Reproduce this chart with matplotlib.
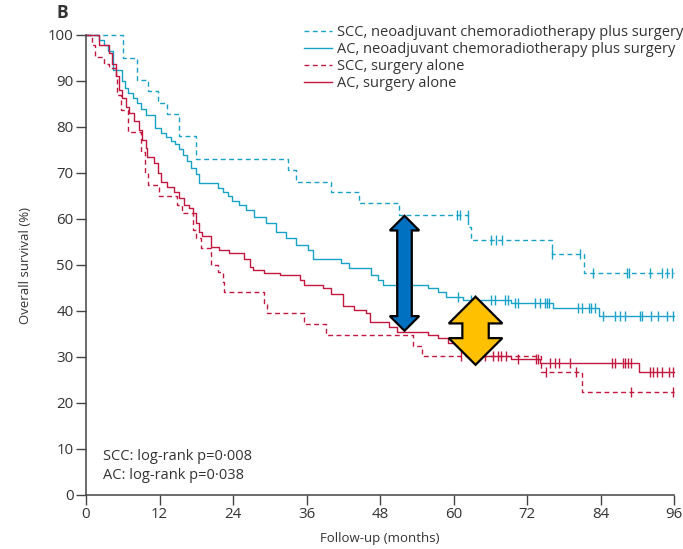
import numpy as np
import matplotlib
matplotlib.use("Agg")
import matplotlib.pyplot as plt
from matplotlib.patches import Polygon
from matplotlib.lines import Line2D

# ---- Kaplan-Meier step data (months, overall survival %) ----
scc_neo_t = [0, 6.1, 8.4, 10.2, 11.7, 13.3, 15.2, 17.9, 32.9, 34.3, 40.0, 44.5, 51.1, 62.4, 62.9, 76.0, 81.3]
scc_neo_s = [100, 95.0, 90.3, 87.8, 85.2, 82.8, 78.0, 73.1, 70.7, 68.1, 65.8, 63.4, 60.9, 58.3, 55.4, 52.3, 48.2]
scc_neo_cens = [60.6, 61.1, 62.3, 66.2, 67.0, 67.9, 76.0, 80.6, 82.8, 88.3, 88.6, 92.0, 94.0, 94.8, 95.6]

ac_neo_t = [0, 2.1, 3.0, 3.6, 4.4, 5.9, 6.3, 6.8, 7.6, 8.4, 9.0, 9.8, 11.3, 12.2, 13.0, 13.8, 14.5,
            15.2, 15.8, 16.5, 17.1, 17.9, 18.5, 21.5, 22.3, 23.2, 23.9, 25.0, 26.1, 27.5, 29.4, 31.0,
            32.7, 34.3, 36.2, 37.0, 41.6, 43.0, 46.6, 47.6, 48.5, 55.8, 57.4, 58.8, 61.6, 69.4, 76.3, 83.8]
ac_neo_s = [100, 99.0, 97.8, 96.5, 92.4, 90.0, 88.5, 87.3, 86.3, 85.2, 84.0, 82.6, 79.7, 78.8, 77.9, 77.0, 76.2,
            75.2, 74.0, 72.5, 71.0, 69.8, 67.8, 66.8, 65.8, 65.0, 64.0, 63.0, 62.0, 60.5, 59.1, 57.2,
            55.8, 54.3, 53.3, 51.4, 50.4, 49.3, 47.8, 46.7, 45.7, 44.9, 44.2, 43.1, 42.5, 41.7, 40.6, 38.9]
ac_neo_cens = [60.8, 62.9, 63.5, 66.2, 66.7, 68.4, 68.9, 70.0, 70.5, 73.3, 74.1, 74.9, 75.3, 75.6,
               80.3, 80.9, 82.1, 82.5, 83.1, 84.4, 86.3, 87.2, 88.0, 90.4, 90.7, 92.3, 93.4, 94.8, 95.9]

scc_surg_t = [0, 1.0, 1.5, 2.9, 3.8, 4.9, 5.1, 5.7, 6.8, 8.9, 9.6, 10.1, 11.9, 14.9, 15.7, 17.4, 17.9,
              18.7, 20.4, 21.5, 22.3, 22.6, 29.1, 29.6, 35.6, 39.2, 53.4, 54.8, 74.3, 80.9]
scc_surg_s = [100, 97.8, 95.3, 93.8, 92.8, 90.9, 87.0, 83.7, 79.0, 74.6, 70.0, 67.4, 65.0, 63.0, 61.2, 57.6, 55.8,
              53.6, 50.0, 48.5, 46.4, 44.2, 41.7, 39.5, 37.2, 34.8, 32.5, 30.2, 26.8, 22.5]
scc_surg_cens = [61.3, 65.1, 66.4, 67.2, 67.8, 68.6, 75.1, 80.0, 88.9, 95.8]

ac_surg_t = [0, 2.1, 3.8, 4.3, 4.9, 5.4, 5.9, 6.5, 7.0, 7.8, 8.7, 9.2, 9.8, 10.0, 11.1, 11.7, 12.2, 13.3,
             14.4, 15.2, 16.0, 16.8, 17.4, 17.9, 18.5, 19.0, 20.4, 21.7, 23.4, 25.8, 26.7, 27.2, 29.1,
             31.6, 35.0, 35.6, 38.7, 40.0, 41.9, 43.8, 45.7, 46.3, 49.5, 50.7, 55.8, 57.4, 59.1, 61.0,
             62.5, 63.5, 69.4, 74.1, 90.3]
ac_surg_s = [100, 97.8, 96.0, 93.8, 91.0, 88.0, 86.2, 84.4, 83.0, 81.2, 79.3, 77.2, 75.4, 73.5, 72.1, 69.9, 68.1, 67.0,
             65.9, 64.5, 63.0, 62.3, 61.2, 59.1, 57.2, 56.2, 54.0, 53.3, 52.5, 51.4, 49.6, 48.9, 48.2,
             47.8, 46.8, 45.7, 44.9, 43.8, 41.1, 40.3, 39.6, 37.7, 36.6, 35.5, 34.8, 34.1, 33.0, 31.8,
             30.9, 30.2, 29.5, 28.6, 26.8]
ac_surg_cens = [70.6, 73.4, 73.8, 75.7, 76.5, 77.3, 79.0, 85.8, 86.3, 87.7, 88.0, 88.5, 89.0,
                92.1, 92.6, 93.2, 94.0, 95.2, 95.9]

series_labels = ["SCC, neoadjuvant chemoradiotherapy plus surgery",
                 "AC, neoadjuvant chemoradiotherapy plus surgery",
                 "SCC, surgery alone",
                 "AC, surgery alone"]
x_ticks = [0, 12, 24, 36, 48, 60, 72, 84, 96]
y_ticks = [0, 10, 20, 30, 40, 50, 60, 70, 80, 90, 100]
pvalue_lines = ["SCC: log-rank p=0\u00b7008", "AC: log-rank p=0\u00b7038"]

CYAN = "#17A2C8"
RED = "#C2173F"
TXT = "#333333"

plt.rcParams["font.family"] = ["Open Sans", "DejaVu Sans"]

W, H, DPI = 683, 549, 100
fig = plt.figure(figsize=(W / DPI, H / DPI), dpi=DPI)
ax_l, ax_r, ax_t, ax_b = 86, 674, 35, 495
ax = fig.add_axes([ax_l / W, 1 - ax_b / H, (ax_r - ax_l) / W, (ax_b - ax_t) / H])

XMAX = 96


def km_value(t_steps, s_steps, t):
    idx = np.searchsorted(np.asarray(t_steps), t, side="right") - 1
    return np.asarray(s_steps)[idx]


def draw_curve(t, s, cens, color, ls, label):
    tt = list(t) + [XMAX]
    ss = list(s) + [s[-1]]
    if ls == "--":
        ax.step(tt, ss, where="post", color=color, lw=1.0, dashes=(3.5, 2.5),
                clip_on=False, label=label)
    else:
        ax.step(tt, ss, where="post", color=color, lw=1.0, clip_on=False, label=label)
    cv = [km_value(t, s, c) for c in cens]
    ax.plot(cens, cv, ls="none", marker="|", ms=6.5, mew=1.0, color=color, clip_on=False)


draw_curve(scc_neo_t, scc_neo_s, scc_neo_cens, CYAN, "--", series_labels[0])
draw_curve(ac_neo_t, ac_neo_s, ac_neo_cens, CYAN, "-", series_labels[1])
draw_curve(scc_surg_t, scc_surg_s, scc_surg_cens, RED, "--", series_labels[2])
draw_curve(ac_surg_t, ac_surg_s, ac_surg_cens, RED, "-", series_labels[3])

ax.set_xlim(0, XMAX)
ax.set_ylim(0, 100)
ax.set_xticks(x_ticks)
ax.set_yticks(y_ticks)
for sp in ("top", "right"):
    ax.spines[sp].set_visible(False)
for sp in ("left", "bottom"):
    ax.spines[sp].set_color("#444444")
    ax.spines[sp].set_linewidth(1.1)
ax.tick_params(direction="out", length=7, width=1.0, color="#444444", labelcolor=TXT,
               labelsize=10.8, pad=2)
ax.set_xlabel("Follow-up (months)", fontsize=9.5, color=TXT, labelpad=7)
ax.set_ylabel("Overall survival (%)", fontsize=9.5, color=TXT, labelpad=11)

# legend
handles = [Line2D([], [], color=CYAN, lw=1.0, dashes=(3.5, 2.5)),
           Line2D([], [], color=CYAN, lw=1.0),
           Line2D([], [], color=RED, lw=1.0, dashes=(3.5, 2.5)),
           Line2D([], [], color=RED, lw=1.0)]
fig.legend(handles, series_labels, loc="upper left", bbox_to_anchor=(304 / W, 1 - 25 / H),
           frameon=False, fontsize=10.5, handlelength=1.95, handletextpad=0.3,
           labelspacing=0.14, borderpad=0, borderaxespad=0, labelcolor=TXT)

# p-values
ax.text(0.029, 0.083, pvalue_lines[0], transform=ax.transAxes, fontsize=10.5, color=TXT, va="center")
ax.text(0.029, 0.043, pvalue_lines[1], transform=ax.transAxes, fontsize=10.5, color=TXT, va="center")

fig.text(56 / W, 1 - 13 / H, "B", fontsize=12.5, fontweight="bold", color=TXT, va="center")

# double-headed arrows highlighting survival gaps
px_per_month = (ax_r - ax_l) / XMAX
px_per_pct = (ax_b - ax_t) / 100.0


def double_arrow(month, low, high, shaft_px, head_w_px, head_len_px, color):
    sw = shaft_px / px_per_month
    hw = head_w_px / px_per_month
    hl = head_len_px / px_per_pct
    x = month
    verts = [(x, high), (x + hw, high - hl), (x + sw, high - hl), (x + sw, low + hl),
             (x + hw, low + hl), (x, low), (x - hw, low + hl), (x - sw, low + hl),
             (x - sw, high - hl), (x - hw, high - hl)]
    ax.add_patch(Polygon(verts, closed=True, facecolor=color, edgecolor="black",
                         lw=1.6, joinstyle="miter", zorder=10, clip_on=False))


double_arrow(52.0, 35.7, 60.7, 7.3, 14.7, 14.7, "#0070C0")
double_arrow(63.6, 28.3, 43.1, 13.2, 26.8, 26.7, "#FFC000")

fig.savefig("out.png", dpi=DPI)
